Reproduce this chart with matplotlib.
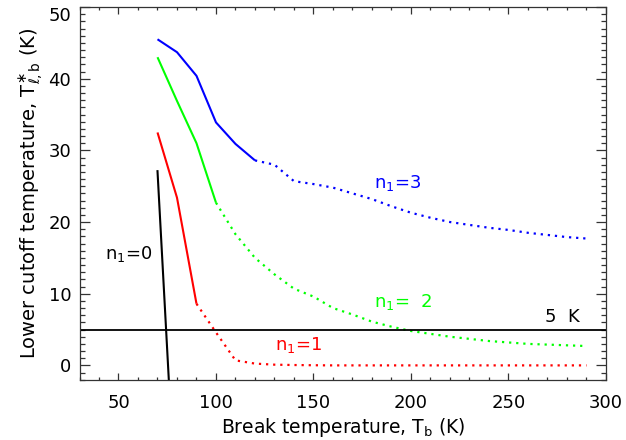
"""Lower cutoff temperature versus break temperature for n1 = 0..3."""

import matplotlib

matplotlib.use("Agg")

import matplotlib.pyplot as plt
import numpy as np
from matplotlib.ticker import MultipleLocator

# break temperature grid (K)
tb = [70, 80, 90, 100, 110, 120, 130, 140, 150, 160, 170, 180, 190,
      200, 210, 220, 230, 240, 250, 260, 270, 280, 290]

# n1 = 3 (solid up to 120 K)
t_n3 = [45.5, 43.7, 40.4, 33.9, 30.9, 28.6, 28.0, 25.7, 25.3, 24.8, 24.0, 23.2, 22.2,
        21.3, 20.6, 20.0, 19.6, 19.2, 18.9, 18.5, 18.2, 17.9, 17.7]
solid_end_n3 = 120

# n1 = 2 (solid up to 100 K)
t_n2 = [43.0, 36.9, 31.0, 22.7, 18.3, 15.0, 12.7, 10.7, 9.6, 8.0, 7.1, 6.1, 5.4,
        4.8, 4.4, 4.0, 3.7, 3.4, 3.2, 3.0, 2.9, 2.8, 2.7]
solid_end_n2 = 100

# n1 = 1 (solid up to 90 K)
t_n1 = [32.5, 23.4, 8.6, 4.6, 0.7, 0.25, 0.1, 0.05, 0.02, 0.0, 0.0, 0.0, 0.0,
        0.0, 0.0, 0.0, 0.0, 0.0, 0.0, 0.0, 0.0, 0.0, 0.0]
solid_end_n1 = 90

# n1 = 0
tb_n0 = [70, 76]
t_n0 = [27.1, -3.0]

ref_level = 5.0

DOT = (0, (1, 2.2))


def _draw(ax, x, y, split, color):
    x = np.asarray(x, dtype=float)
    y = np.asarray(y, dtype=float)
    solid = x <= split
    dotted = x >= split
    ax.plot(x[solid], y[solid], color=color, lw=1.5, solid_capstyle="butt")
    ax.plot(x[dotted], y[dotted], color=color, lw=1.6, linestyle=DOT)


def main() -> None:
    fig = plt.figure(figsize=(6.26, 4.40), dpi=100)
    ax = fig.add_axes([0.127, 0.137, 0.841, 0.847])

    _draw(ax, tb, t_n3, solid_end_n3, "#0000ff")
    _draw(ax, tb, t_n2, solid_end_n2, "#00ff00")
    _draw(ax, tb, t_n1, solid_end_n1, "#ff0000")
    ax.plot(tb_n0, t_n0, color="black", lw=1.5)
    ax.axhline(ref_level, color="black", lw=1.3)

    fs = 13
    ax.text(43.0, 15.6, r"n$_\mathregular{1}$=0", color="black", fontsize=fs, va="center")
    ax.text(130.5, 2.9, r"n$_\mathregular{1}$=1", color="#ff0000", fontsize=fs, va="center")
    ax.text(181, 8.8, r"n$_\mathregular{1}$=  2", color="#00ff00", fontsize=fs, va="center")
    ax.text(181, 25.5, r"n$_\mathregular{1}$=3", color="#0000ff", fontsize=fs, va="center")
    ax.text(286.5, 6.8, "5  K", color="black", fontsize=fs, va="center", ha="right")

    ax.xaxis.set_major_locator(MultipleLocator(50))
    ax.xaxis.set_minor_locator(MultipleLocator(10))
    ax.set_yticks([0, 10, 20, 30, 40, 50])
    ax.yaxis.set_minor_locator(MultipleLocator(1))
    ax.set_xlim(30, 300)
    ax.set_ylim(-2, 50)
    ax.tick_params(axis="both", which="both", direction="in", top=True, right=True,
                   labelsize=fs, color="#333333", width=0.9)
    ax.tick_params(axis="x", which="major", length=5, pad=10)
    ax.tick_params(axis="x", which="minor", length=2.5)
    ax.tick_params(axis="y", which="major", length=7.5, pad=6)
    ax.tick_params(axis="y", which="minor", length=3.6)
    for sp in ax.spines.values():
        sp.set_color("#333333")
        sp.set_linewidth(0.9)

    ax.set_xlabel(r"Break temperature, T$_\mathregular{b}$ (K)", fontsize=13.5, labelpad=3)
    ax.set_ylabel(r"Lower cutoff temperature, T$^{\ast}_{\ell\mathregular{,b}}$ (K)",
                  fontsize=14, labelpad=2)

    # IDL keeps the top label inside the window
    ax.yaxis.get_major_ticks()[-1].label1.set_verticalalignment("top")

    fig.savefig("out.png", dpi=100)
    plt.close(fig)


if __name__ == "__main__":
    main()
